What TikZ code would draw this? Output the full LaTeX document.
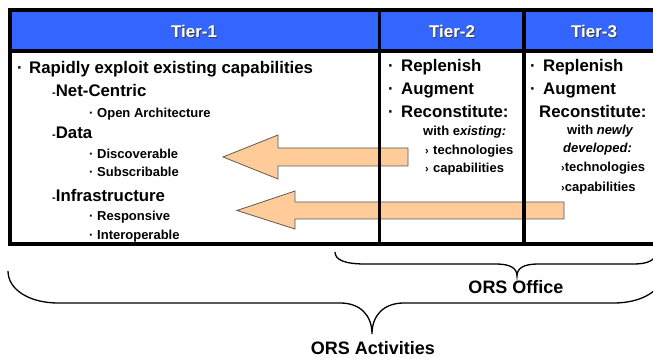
\documentclass[tikz,border=0pt]{standalone}
\usepackage{fontspec}
\setmainfont{Liberation Sans}
\definecolor{hdrblue}{RGB}{51,102,255}
\definecolor{peach}{RGB}{255,204,153}
\tikzset{
  big/.style={font=\fontsize{16.8}{18}\selectfont\bfseries, inner sep=0pt, anchor=base west},
  small/.style={font=\fontsize{13}{15}\selectfont\bfseries, inner sep=0pt, anchor=base west},
  hdr/.style={font=\fontsize{17}{19}\selectfont\bfseries, text=white, inner sep=0pt},
  hdrshadow/.style={hdr, text=black!75},
  tbl/.style={line width=3.5pt, line join=miter},
  blockarrow/.style={fill=peach, draw=black!65, line width=0.8pt, line join=miter},
  bracepath/.style={line width=1.3pt},
  lab/.style={font=\fontsize{18}{20}\selectfont\bfseries, inner sep=0pt},
}
\newcommand{\arrbul}{{\fontsize{11}{11}\selectfont ›}}
\begin{document}
\begin{tikzpicture}[x=1pt, y=-1pt]
\clip (0,0) rectangle (653,358);
% fills
\fill[hdrblue] (10,10) rectangle (675,51);
\fill[white] (10,51) rectangle (675,244);
% block arrows
\draw[blockarrow] (408,148) -- (278,148) -- (278,135) -- (223,157) -- (278,179) -- (278,166) -- (408,166) -- cycle;
\draw[blockarrow] (564,202) -- (295,202) -- (295,191) -- (237,210.5) -- (295,229) -- (295,219) -- (564,219) -- cycle;
% table lines
\draw[tbl] (675,10) -- (10,10) -- (10,244) -- (675,244);
\draw[tbl] (10,51) -- (675,51);
\draw[tbl] (379.5,10) -- (379.5,244);
\draw[tbl] (524,10) -- (524,244);
% headers
\node[hdrshadow] (h1s) at (195,32) {Tier-1};
\node[hdr] (h1) at (194,31) {Tier-1};
\node[hdrshadow] (h2s) at (453,32) {Tier-2};
\node[hdr] (h2) at (452,31) {Tier-2};
\node[hdrshadow] (h3s) at (595,32) {Tier-3};
\node[hdr] (h3) at (594,31) {Tier-3};
% Tier-1 content
\node[big] (b1) at (17,74) {·};
\node[big] (t1a) at (29,74) {Rapidly exploit existing capabilities};
\node[big] (t1b) at (52,97) {{\fontsize{11}{12}\selectfont -}Net-Centric};
\node[small] (b1c) at (89,117.5) {·};
\node[small] (t1c) at (97,117.5) {Open Architecture};
\node[big] (t1d) at (52,139) {{\fontsize{11}{12}\selectfont -}Data};
\node[small] (b1e) at (89,158.5) {·};
\node[small] (t1e) at (97,158.5) {Discoverable};
\node[small] (b1f) at (89,176.5) {·};
\node[small] (t1f) at (97,176.5) {Subscribable};
\node[big] (t1g) at (52,202) {{\fontsize{11}{12}\selectfont -}Infrastructure};
\node[small] (b1h) at (89,221) {·};
\node[small] (t1h) at (97,221) {Responsive};
\node[small] (b1i) at (89,239.5) {·};
\node[small] (t1i) at (97,239.5) {Interoperable};
% Tier-2 content
\node[big] (b2a) at (388,72) {·};
\node[big] (t2a) at (401,72) {Replenish};
\node[big] (b2b) at (388,95) {·};
\node[big] (t2b) at (401,95) {Augment};
\node[big] (b2c) at (388,118) {·};
\node[big] (t2c) at (401,118) {Reconstitute:};
\node[small] (t2d) at (423,135.5) {with e\textit{xisting:}};
\node[small] (b2e) at (425,154.5) {\arrbul};
\node[small] (t2e) at (433,154.5) {technologies};
\node[small] (b2f) at (425,172.5) {\arrbul};
\node[small] (t2f) at (433,172.5) {capabilities};
% Tier-3 content
\node[big] (b3a) at (530,72) {·};
\node[big] (t3a) at (543,72) {Replenish};
\node[big] (b3b) at (530,95) {·};
\node[big] (t3b) at (543,95) {Augment};
\node[big] (t3c) at (539,118) {Reconstitute:};
\node[small] (t3d) at (567,134.5) {with \textit{newly}};
\node[small] (t3e) at (563,152.5) {\textit{developed:}};
\node[small] (t3f) at (561,171.5) {\arrbul technologies};
\node[small] (t3g) at (561,191.5) {\arrbul capabilities};
% braces
\draw[bracepath] (335,252) .. controls (335,260) and (345,264) .. (365,264)
  -- (496,264) .. controls (510,264) and (517,268) .. (517,276)
  .. controls (517,268) and (524,264) .. (538,264)
  -- (634,264) .. controls (648,264) and (656,260) .. (656,252);
\draw[bracepath] (8,271) .. controls (8,290) and (30,303) .. (58,303)
  -- (340,303) .. controls (360,303) and (372,315) .. (372,334)
  .. controls (372,315) and (384,303) .. (404,303)
  -- (614,303) .. controls (642,303) and (664,290) .. (664,271);
\node[lab] (office) at (516,287) {ORS Office};
\node[lab] (activities) at (373,348) {ORS Activities};
\end{tikzpicture}
\end{document}
